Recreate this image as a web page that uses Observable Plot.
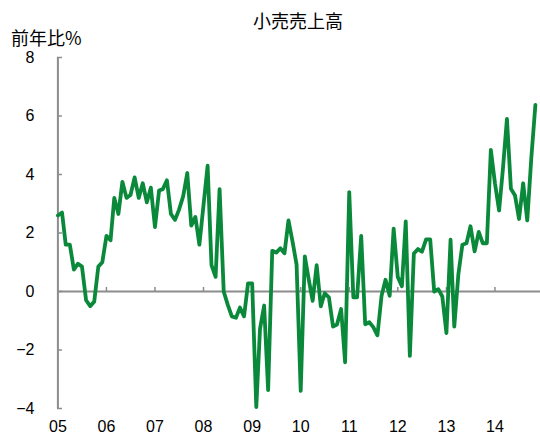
<!DOCTYPE html>
<html>
<head>
<meta charset="utf-8">
<script src="https://cdn.jsdelivr.net/npm/d3@7"></script>
<script src="https://cdn.jsdelivr.net/npm/@observablehq/plot@0.6"></script>
<style>
  html, body { margin: 0; padding: 0; background: #fff; }
  #wrap { position: relative; width: 540px; height: 436px; }
  #title { position: absolute; left: 0; width: 596px; top: 10px; text-align: center;
           font-family: "Noto Sans CJK JP", sans-serif; font-size: 18px; line-height: 20px; color: #000; }
  #unit { position: absolute; left: 11px; top: 27px;
          font-family: "Noto Sans CJK JP", sans-serif; font-size: 18px; line-height: 20px; color: #000; }
  #chart { position: absolute; left: 0; top: 0; }
</style>
</head>
<body>
<div id="wrap">
  <div id="chart"></div>
  <div id="title">小売売上高</div>
  <div id="unit">前年比%</div>
</div>
<script>
// Year tick labels
const yearLabels = ["05", "06", "07", "08", "09", "10", "11", "12", "13", "14"];
// Y ticks
const yTicks = [-4, -2, 0, 2, 4, 6, 8];

// Monthly year-on-year % values, Jan..Dec, per year
const v2005 = [2.6, 2.7, 1.6, 1.6, 0.75, 0.95, 0.85, -0.3, -0.5, -0.35, 0.85, 1.0];
const v2006 = [1.9, 1.75, 3.2, 2.65, 3.75, 3.2, 3.3, 3.9, 3.2, 3.7, 3.05, 3.55];
const v2007 = [2.2, 3.45, 3.5, 3.8, 2.65, 2.45, 2.8, 3.25, 4.05, 2.25, 2.55, 1.6];
const v2008 = [2.95, 4.3, 0.9, 0.5, 3.5, 0.0, -0.45, -0.85, -0.9, -0.55, -0.85, 0.28];
const v2009 = [0.28, -3.95, -1.28, -0.48, -3.37, 1.39, 1.33, 1.48, 1.31, 2.43, 1.7, 0.92];
const v2010 = [-3.4, 1.2, 0.45, -0.32, 0.9, -0.51, -0.06, -0.2, -1.2, -1.13, -0.6, -2.42];
const v2011 = [3.4, -0.2, -0.2, 1.9, -1.12, -1.05, -1.22, -1.5, -0.15, 0.4, -0.15, 2.15];
const v2012 = [0.5, 0.18, 2.4, -2.2, 1.3, 1.45, 1.36, 1.78, 1.78, 0.0, 0.08, -0.17];
const v2013 = [-1.42, 1.77, -1.2, 0.6, 1.6, 1.65, 2.23, 1.37, 2.04, 1.65, 1.65, 4.84];
const v2014 = [3.7, 2.77, 4.15, 5.9, 3.51, 3.28, 2.48, 3.7, 2.43, 4.54, 6.38];

const series = [v2005, v2006, v2007, v2008, v2009, v2010, v2011, v2012, v2013, v2014];
const data = [];
series.forEach((arr, yi) => arr.forEach((v, mi) => data.push({date: new Date(Date.UTC(2005 + yi, mi, 1)), value: v})));
const yearDates = yearLabels.map((_, i) => new Date(Date.UTC(2005 + i, 0, 1)));

const W = 540, H = 436;
const mTop = 57, mBottom = 28, mLeft = 57;
const yRange = [H - mBottom, mTop];
const zeroOffset = (8 / 12) * (H - mBottom - mTop); // distance from frame top to y=0

const gray = "#8c8c8c";
const chart = Plot.plot({
  width: W,
  height: H,
  marginTop: mTop,
  marginBottom: mBottom,
  marginLeft: mLeft,
  marginRight: 0,
  style: {fontFamily: "'Liberation Sans', Arial, sans-serif", fontSize: "16px", color: "#000", background: "transparent"},
  x: {type: "utc", domain: [new Date(Date.UTC(2005, 0, 1)), new Date(Date.UTC(2015, 0, 1))], range: [57.4, 543]},
  y: {domain: [-4, 8], range: yRange},
  marks: [
    Plot.ruleY([0], {stroke: gray, strokeWidth: 2}),
    Plot.ruleX([yearDates[0]], {stroke: gray, strokeWidth: 2}),
    Plot.axisY({ticks: yTicks, tickSize: 5, dx: 5, tickPadding: 23, stroke: gray, strokeWidth: 1.5, fill: "#000", label: null, fontSize: 16}),
    Plot.axisX({ticks: yearDates, anchor: "bottom", tickSize: 0, tickPadding: 12, tickFormat: (d) => yearLabels[d.getUTCFullYear() - 2005], label: null, fill: "#000", fontSize: 16}),
    Plot.axisX({ticks: yearDates.slice(1), anchor: "top", tickSize: 5, dy: zeroOffset, tickFormat: () => "", stroke: gray, strokeWidth: 1.5, label: null}),
    Plot.line(data, {x: "date", y: "value", stroke: "#0a893b", strokeWidth: 3.8})
  ]
});
document.getElementById("chart").appendChild(chart);
</script>
</body>
</html>
